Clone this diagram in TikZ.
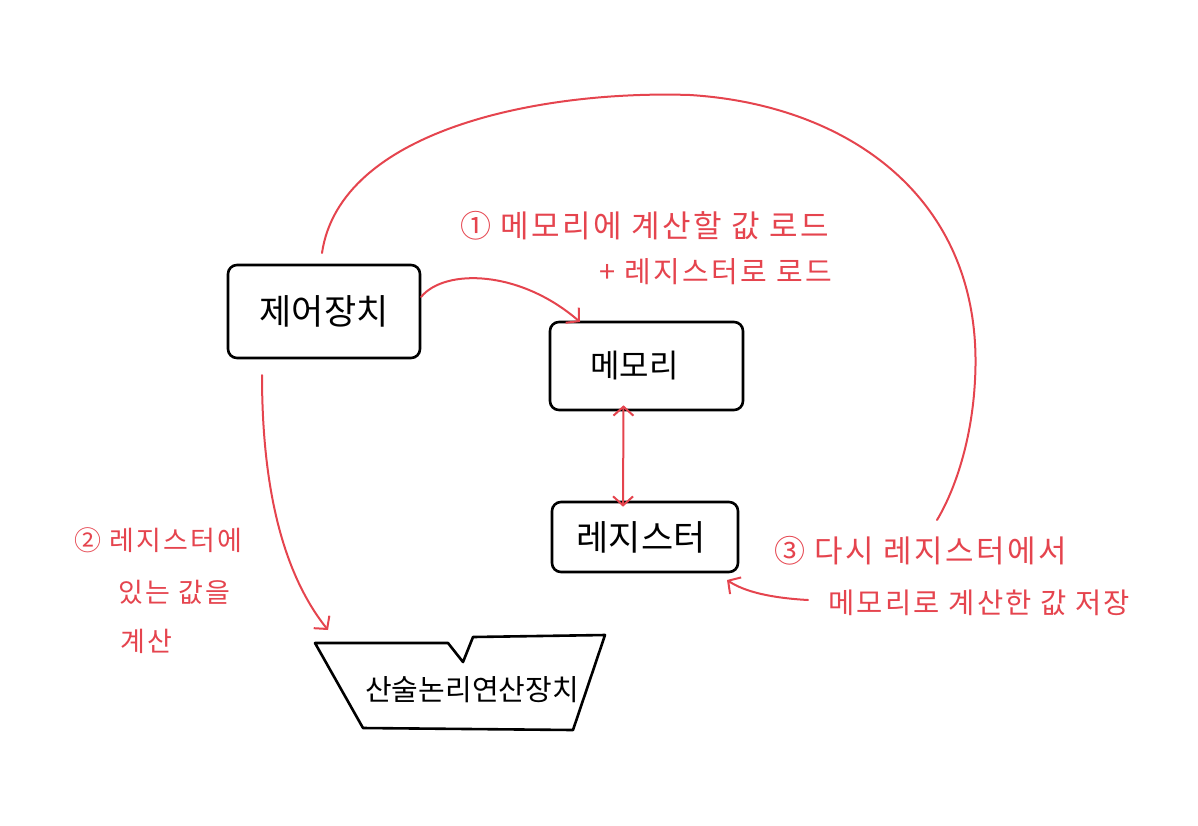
\documentclass[tikz,border=0pt]{standalone}
\usepackage{fontspec}
\setmainfont{Noto Sans CJK KR}
\usetikzlibrary{arrows.meta}
\definecolor{pen}{HTML}{E5444E}
\begin{document}
\begin{tikzpicture}[x=1pt,y=-1pt,
  box/.style={draw=black,line width=2.6pt,rounded corners=9pt,inner sep=0pt},
  boxtext/.style={font=\fontsize{#1}{36}\selectfont},
  note/.style={text=pen,inner sep=0pt,font=\fontsize{#1}{32}\selectfont\addfontfeatures{LetterSpace=8}},
  penline/.style={draw=pen,line width=2pt,line cap=round},
  tip/.style={-{Straight Barb[length=9pt,width=20pt,line width=2pt]}},
  tips/.style={{Straight Barb[length=9pt,width=20pt,line width=2pt]}-{Straight Barb[length=9pt,width=20pt,line width=2pt]}}
]
\useasboundingbox (0,0) rectangle (1198,825);
% boxes
\node[box,boxtext=35,minimum width=192pt,minimum height=93pt] (ctrl) at (324,311.5) {제어장치};
\node[box,boxtext=32,minimum width=193pt,minimum height=88pt] (mem) at (646.5,366) {\hspace*{-24pt}메모리};
\node[box,boxtext=35,minimum width=186pt,minimum height=70pt] (reg) at (645,537) {\hspace*{-8pt}레지스터};
% ALU
\coordinate (a1) at (315,643);
\coordinate (a2) at (448,643);
\coordinate (a3) at (463,662);
\coordinate (a4) at (473,637);
\coordinate (a5) at (605,635);
\coordinate (a6) at (573,730);
\coordinate (a7) at (363,728);
\draw[line width=2.6pt,line join=round] (a1) -- (a2) -- (a3) -- (a4) -- (a5) -- (a6) -- (a7) -- cycle;
\node[boxtext=29] (alu) at (472,690) {산술논리연산장치};
% big arc
\coordinate (arcS) at (322,253);
\coordinate (arcE) at (937,520);
\draw[penline] (arcS) .. controls (340,130) and (540,90) .. (690,95)
  .. controls (850,105) and (985,200) .. (975,380)
  .. controls (972,440) and (955,490) .. (arcE);
% ctrl -> mem
\coordinate (c1) at (421,297);
\coordinate (m1) at (580,322);
\draw[penline,tip] (c1) .. controls (445,268) and (520,270) .. (m1);
% mem <-> reg
\draw[penline,tips] ([xshift=-23pt,yshift=6pt]mem.south) -- ([xshift=-22pt,yshift=-6pt]reg.north);
% ctrl -> alu
\coordinate (c2) at (262,375);
\coordinate (al1) at (328,630);
\draw[penline,tip] (c2) .. controls (262,480) and (280,570) .. (al1);
% note 3 -> reg
\coordinate (n3) at (808,600);
\coordinate (r1) at (727,580);
\draw[penline,tip] (n3) .. controls (772,598) and (745,592) .. (r1);
% labels
\node[note=31,anchor=west] (l1a) at (460,226) {① 메모리에 계산할 값 로드};
\node[note=29,anchor=east] (l1b) at (832,272) {+ 레지스터로 로드};
\node[note=27,anchor=west] (l2a) at (74,540) {② 레지스터에};
\node[note=27,anchor=west] (l2b) at (118,592) {있는 값을};
\node[note=27,anchor=west] (l2c) at (120,641) {계산};
\node[note=31,anchor=west] (l3a) at (774,551) {③ 다시 레지스터에서};
\node[note=28.5,anchor=west] (l3b) at (828,603) {메모리로 계산한 값 저장};
\end{tikzpicture}
\end{document}
